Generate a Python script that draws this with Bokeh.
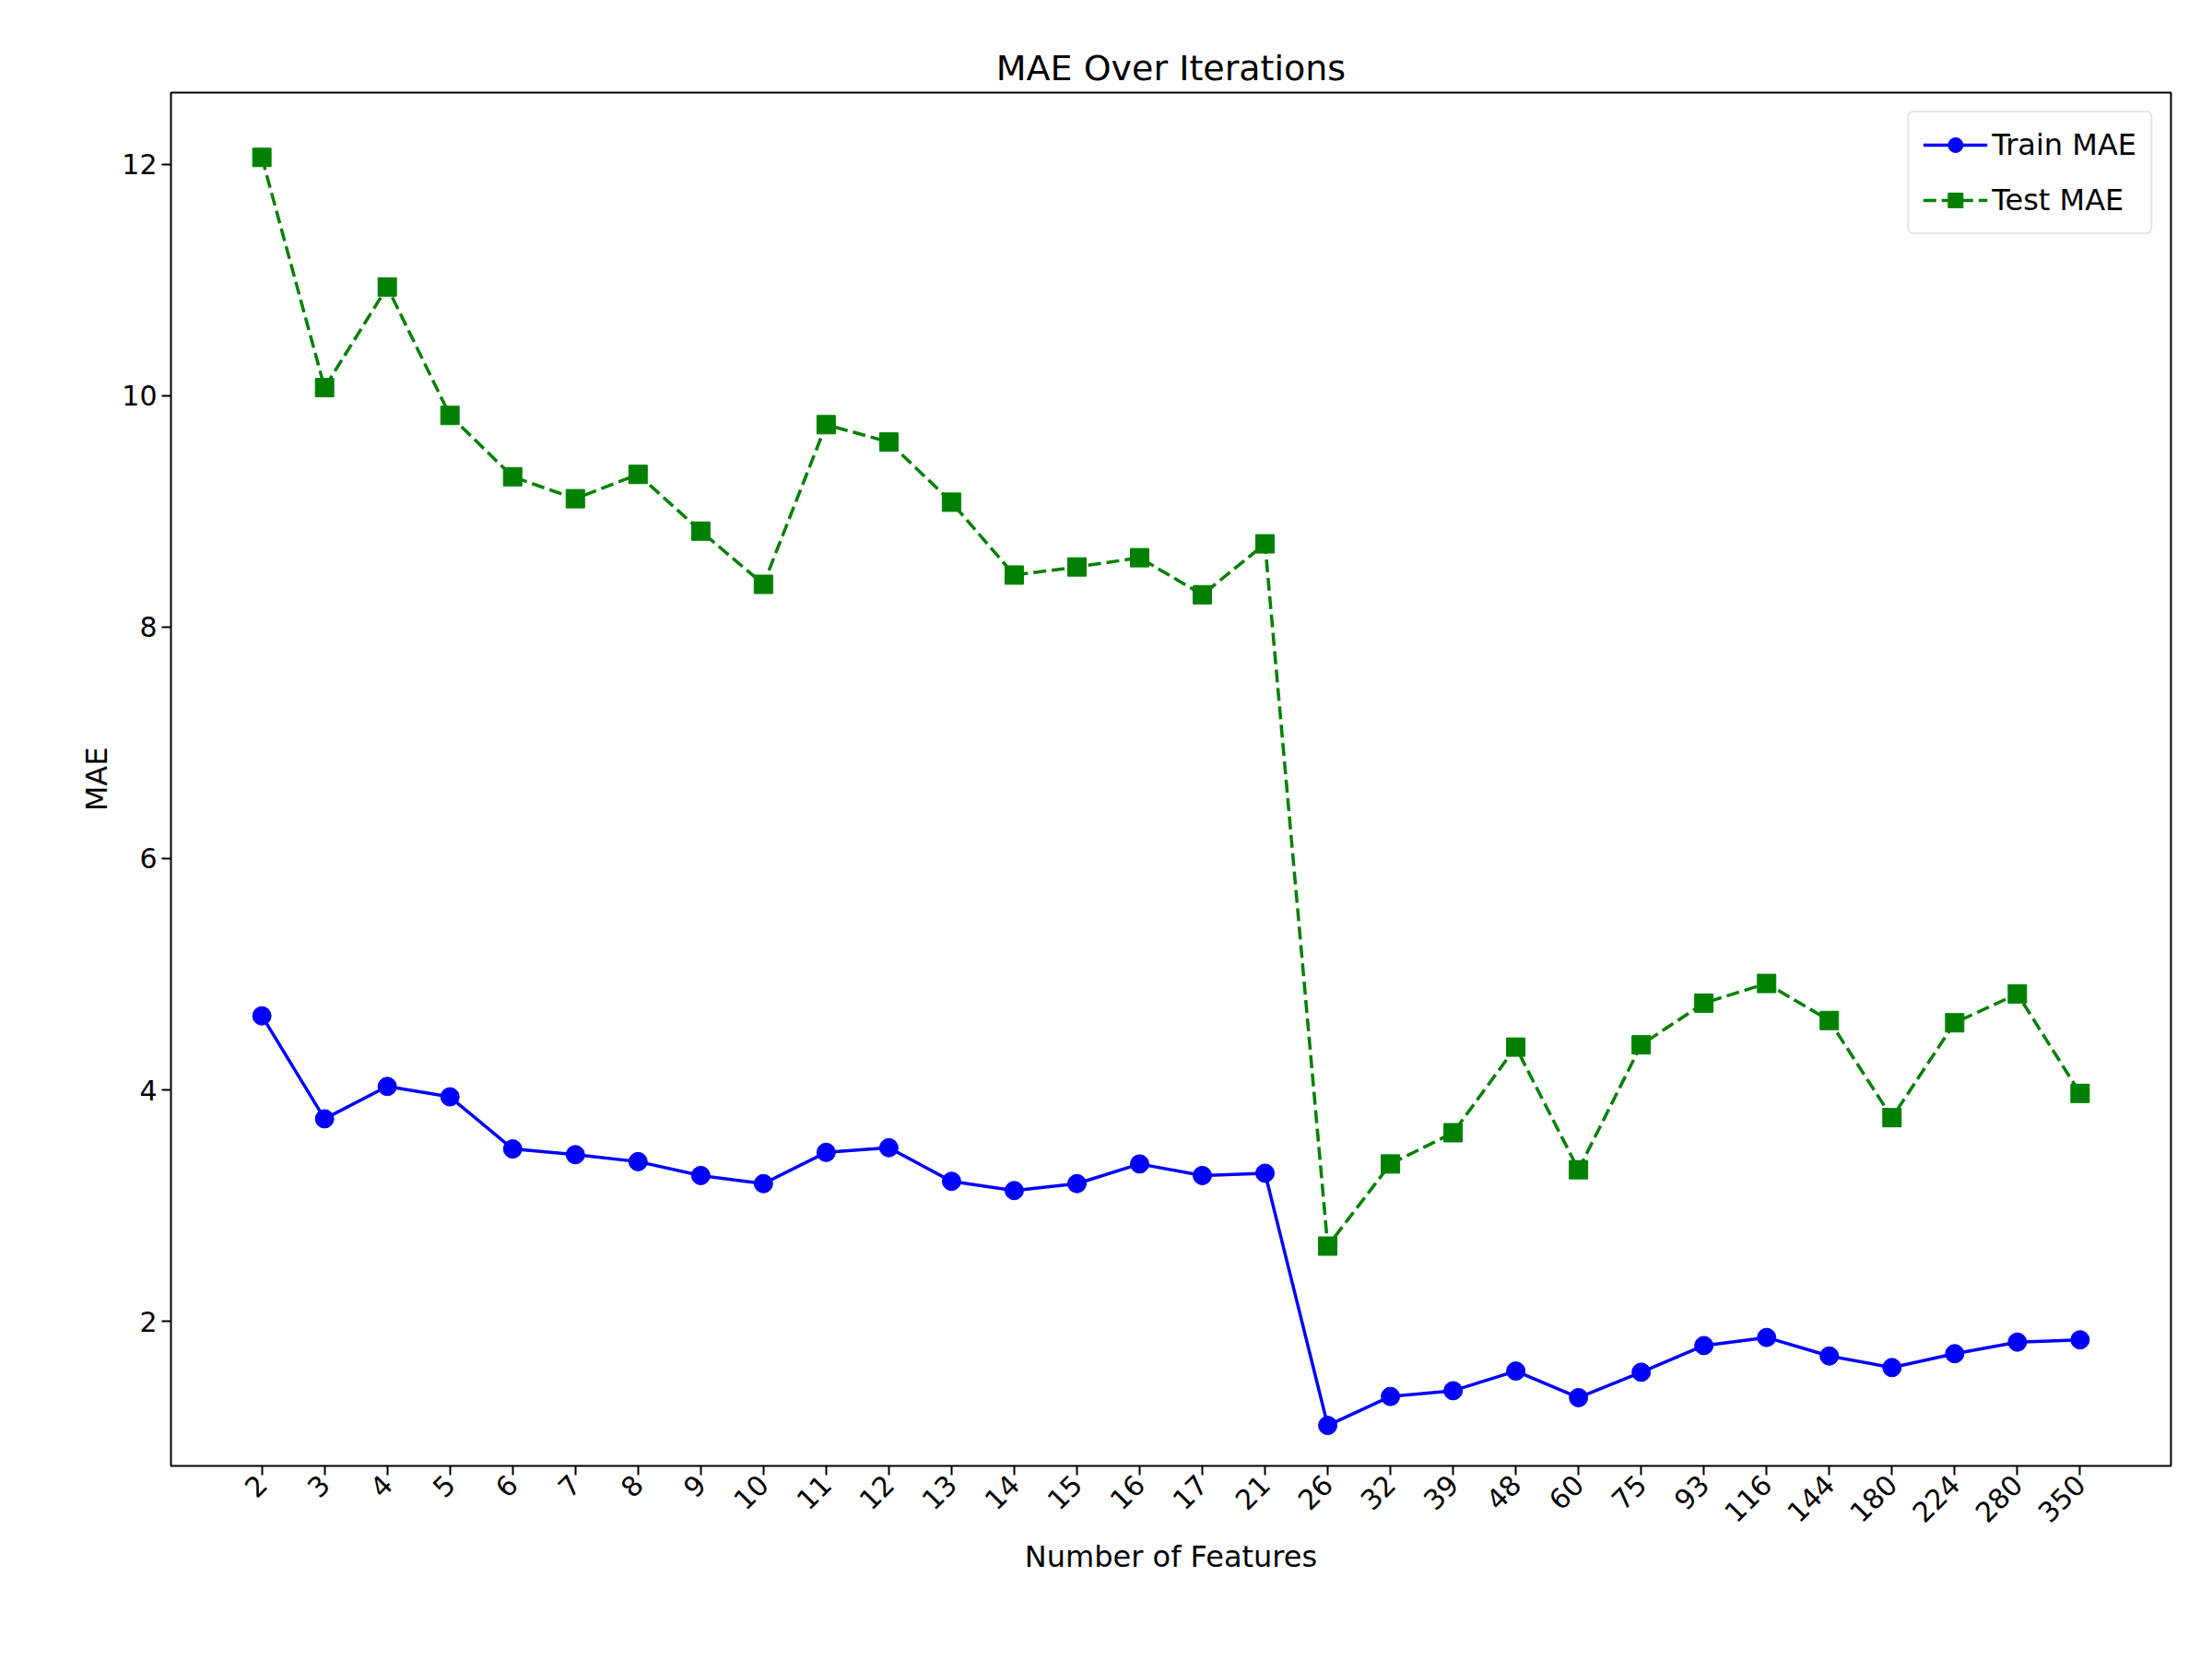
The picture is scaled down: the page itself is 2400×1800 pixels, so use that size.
import math
from bokeh.plotting import figure
from bokeh.models import Range1d, FixedTicker, Legend
from bokeh.embed import file_html
from bokeh.resources import INLINE

n_features = [2, 3, 4, 5, 6, 7, 8, 9, 10, 11, 12, 13, 14, 15, 16, 17, 21,
              26, 32, 39, 48, 60, 75, 93, 116, 144, 180, 224, 280, 350]
train_mae = [4.64, 3.75, 4.03, 3.94, 3.49, 3.44, 3.38, 3.26, 3.19, 3.46,
             3.50, 3.21, 3.13, 3.19, 3.36, 3.26, 3.28, 1.10, 1.35, 1.40,
             1.57, 1.34, 1.56, 1.79, 1.86, 1.70, 1.60, 1.72, 1.82, 1.84]
test_mae = [12.06, 10.07, 10.94, 9.83, 9.30, 9.11, 9.32, 8.83, 8.37, 9.75,
            9.60, 9.08, 8.45, 8.52, 8.60, 8.28, 8.72, 2.65, 3.36, 3.63,
            4.37, 3.31, 4.39, 4.75, 4.92, 4.60, 3.76, 4.58, 4.83, 3.97]
y_ticks = [2, 4, 6, 8, 10, 12]

idx = list(range(len(n_features)))
FONT = "DejaVu Sans"

p = figure(width=2380, height=1760, output_backend="svg", toolbar_location=None,
           title="MAE Over Iterations",
           x_range=Range1d(-1.45, 30.45), y_range=Range1d(0.75, 12.62),
           min_border_left=185, min_border_right=25, min_border_top=100, min_border_bottom=170)
p.title.align = "center"
p.title.text_font = FONT
p.title.text_font_size = "38px"
p.title.text_font_style = "normal"
p.title.text_color = "black"

p.xgrid.visible = False
p.ygrid.visible = False
p.outline_line_color = "black"
p.outline_line_width = 2

p.xaxis.ticker = FixedTicker(ticks=idx)
p.xaxis.major_label_overrides = {i: str(v) for i, v in zip(idx, n_features)}
p.xaxis.major_label_orientation = math.pi / 4
p.yaxis.ticker = FixedTicker(ticks=y_ticks)
for ax in (p.xaxis, p.yaxis):
    ax.major_label_text_font = FONT
    ax.major_label_text_font_size = "30px"
    ax.major_label_text_color = "black"
    ax.axis_label_text_font = FONT
    ax.axis_label_text_font_size = "32px"
    ax.axis_label_text_font_style = "normal"
    ax.axis_label_text_color = "black"
    ax.minor_tick_line_color = None
    ax.major_tick_out = 10
    ax.major_tick_in = 0
    ax.major_tick_line_width = 2
    ax.axis_line_color = None
p.xaxis.axis_label = "Number of Features"
p.yaxis.axis_label = "MAE"

r1 = p.line(idx, train_mae, line_color="blue", line_width=3.5)
r1m = p.scatter(idx, train_mae, marker="circle", size=20, color="blue")
r2 = p.line(idx, test_mae, line_color="green", line_width=3.5, line_dash="14 6")
r2m = p.scatter(idx, test_mae, marker="square", size=20, color="green")

legend = Legend(items=[("Train MAE", [r1, r1m]), ("Test MAE", [r2, r2m])],
                location="top_right", label_text_font=FONT, label_text_font_size="32px",
                label_text_color="black",
                glyph_width=70, glyph_height=40, spacing=20, padding=15,
                border_line_color="#cccccc", border_line_width=2, margin=20,
                border_radius=6)
p.add_layout(legend)

open("out.html", "w").write(file_html(p, INLINE))
